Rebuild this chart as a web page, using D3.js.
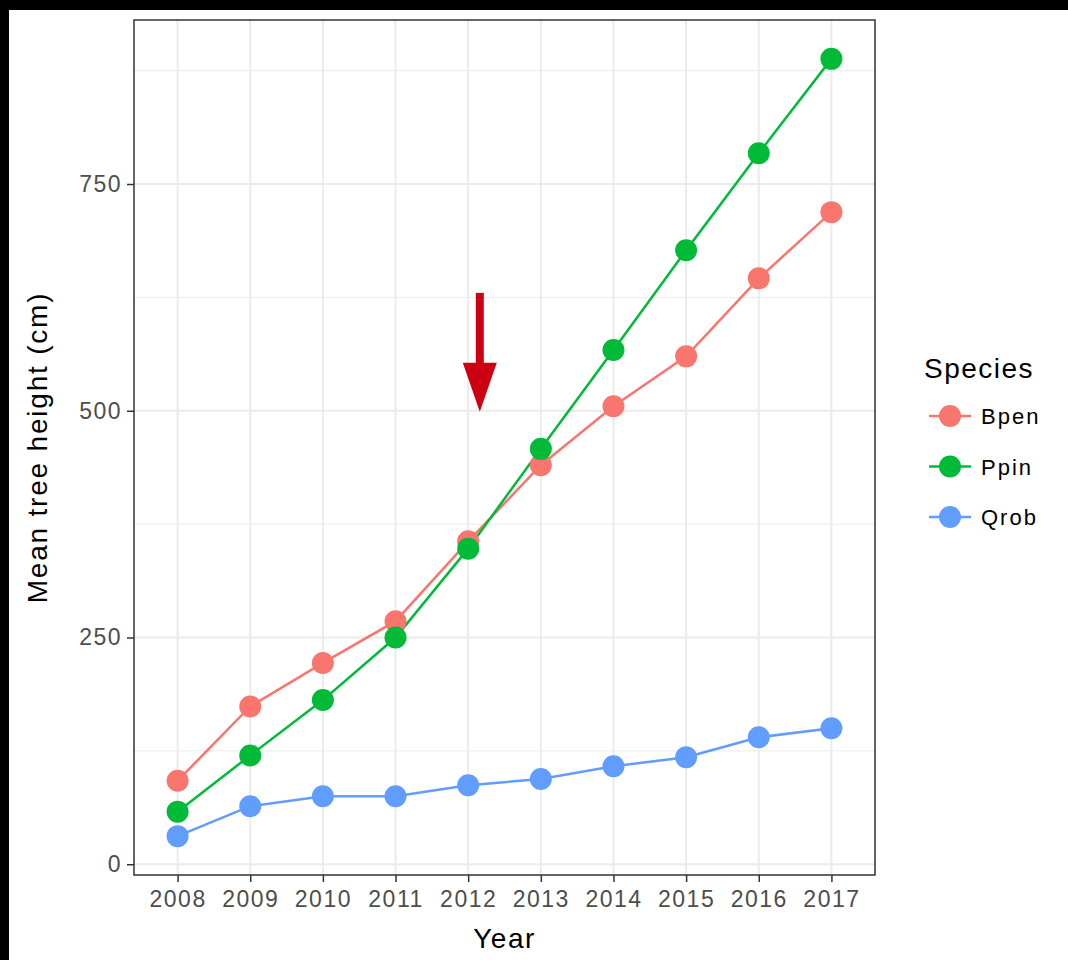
<!DOCTYPE html>
<html>
<head>
<meta charset="utf-8">
<script src="https://cdn.jsdelivr.net/npm/d3@7"></script>
<style>
  body { margin: 0; background: #000; }
  #chart { position: absolute; left: 9px; top: 10px; width: 1059px; height: 950px; background: #fff; }
  svg { display: block; }
</style>
</head>
<body>
<div id="chart"></div>
<script>
// data
var years = [2008, 2009, 2010, 2011, 2012, 2013, 2014, 2015, 2016, 2017];
var species = ["Bpen", "Ppin", "Qrob"];
var bpen = [92, 174, 222, 268, 356, 440, 505, 560, 646, 719];
var ppin = [58, 120, 181, 250, 348, 458, 567, 677, 784, 888];
var qrob = [31, 64, 75, 75, 87, 94, 108, 118, 140, 150];
var yTicks = [0, 250, 500, 750];
var colors = ["#F8766D", "#00BA38", "#619CFF"];

// arrow annotation (data units)
var arrowX = 2012.16, arrowFrom = 630, arrowTo = 499;

var seriesValues = [bpen, ppin, qrob];
var series = species.map(function(s, i) {
    return {name: s, color: colors[i], values: years.map(function(y, j) { return {year: y, value: seriesValues[i][j]}; })};
});

var FONT = "'Liberation Sans', Arial, sans-serif";

// offsets relative to the white area (which starts at 9,10)
var margin = {top: 10, right: 193, bottom: 85, left: 125};
var W = 1059, H = 950;
var width = W - margin.left - margin.right,
    height = H - margin.top - margin.bottom;

var svg = d3.select("#chart").append("svg")
    .attr("width", W)
    .attr("height", H);

var g = svg.append("g")
    .attr("transform", "translate(" + margin.left + "," + margin.top + ")");

// discrete x with 0.6 padding like ggplot
var x = d3.scaleLinear()
    .domain([years[0] - 0.6, years[years.length - 1] + 0.6])
    .range([0, width]);

var allVals = [].concat(bpen, ppin, qrob);
var ymin = d3.min(allVals), ymax = d3.max(allVals), pad = (ymax - ymin) * 0.05;
var y = d3.scaleLinear()
    .domain([ymin - pad, ymax + pad])
    .range([height, 0]);

// minor gridlines
var minor = d3.range(125, ymax + pad, 250);
g.selectAll(".minor").data(minor).enter().append("line")
    .attr("x1", 0).attr("x2", width)
    .attr("y1", function(d) { return y(d); }).attr("y2", function(d) { return y(d); })
    .attr("stroke", "#ebebeb").attr("stroke-width", 1);

// major gridlines
g.selectAll(".hmajor").data(yTicks).enter().append("line")
    .attr("x1", 0).attr("x2", width)
    .attr("y1", function(d) { return y(d); }).attr("y2", function(d) { return y(d); })
    .attr("stroke", "#ebebeb").attr("stroke-width", 2);

g.selectAll(".vmajor").data(years).enter().append("line")
    .attr("y1", 0).attr("y2", height)
    .attr("x1", function(d) { return x(d); }).attr("x2", function(d) { return x(d); })
    .attr("stroke", "#ebebeb").attr("stroke-width", 2);

// lines
var line = d3.line()
    .x(function(d) { return x(d.year); })
    .y(function(d) { return y(d.value); });

g.selectAll(".series").data(series).enter().append("path")
    .attr("d", function(d) { return line(d.values); })
    .attr("fill", "none")
    .attr("stroke", function(d) { return d.color; })
    .attr("stroke-width", 2.5);

// points
series.forEach(function(s) {
    g.selectAll(".pt-" + s.name).data(s.values).enter().append("circle")
        .attr("cx", function(d) { return x(d.year); })
        .attr("cy", function(d) { return y(d.value); })
        .attr("r", 11)
        .attr("fill", s.color);
});

// arrow
var ax = x(arrowX), ay0 = y(arrowFrom), ay1 = y(arrowTo);
g.append("line")
    .attr("x1", ax).attr("x2", ax)
    .attr("y1", ay0).attr("y2", ay1 - 46)
    .attr("stroke", "#cc0011").attr("stroke-width", 8);
g.append("path")
    .attr("d", "M" + (ax - 17) + "," + (ay1 - 49) + "L" + (ax + 17) + "," + (ay1 - 49) + "L" + ax + "," + ay1 + "Z")
    .attr("fill", "#cc0011");

// panel border
g.append("rect")
    .attr("width", width).attr("height", height)
    .attr("fill", "none")
    .attr("stroke", "#333").attr("stroke-width", 1.5);

// axes
var xAxis = g.append("g")
    .attr("transform", "translate(0," + height + ")")
    .call(d3.axisBottom(x).tickValues(years).tickFormat(d3.format("d")).tickSizeOuter(0).tickSize(7).tickPadding(9));
var yAxis = g.append("g")
    .call(d3.axisLeft(y).tickValues(yTicks).tickSizeOuter(0).tickSize(7).tickPadding(5));

[xAxis, yAxis].forEach(function(a) {
    a.select(".domain").remove();
    a.selectAll(".tick line").attr("stroke", "#333").attr("stroke-width", 1.5);
    a.selectAll(".tick text")
        .attr("fill", "#4d4d4d")
        .style("font-family", FONT)
        .style("font-size", "23px")
        .style("letter-spacing", "1.5px");
});

// axis titles
svg.append("text")
    .attr("x", margin.left + width / 2)
    .attr("y", 938)
    .attr("text-anchor", "middle")
    .style("font-family", FONT)
    .style("font-size", "28px")
    .style("letter-spacing", "1.5px")
    .text("Year");

svg.append("text")
    .attr("transform", "translate(38," + (margin.top + height / 2) + ") rotate(-90)")
    .attr("text-anchor", "middle")
    .style("font-family", FONT)
    .style("font-size", "28px")
    .style("letter-spacing", "1.8px")
    .text("Mean tree height (cm)");

// legend
var legend = svg.append("g").attr("transform", "translate(915,0)");
legend.append("text")
    .attr("x", 0).attr("y", 368)
    .style("font-family", FONT)
    .style("font-size", "28px")
    .style("letter-spacing", "1.5px")
    .text("Species");

var item = legend.selectAll(".item").data(series).enter().append("g")
    .attr("transform", function(d, i) { return "translate(0," + (406 + i * 50.5) + ")"; });
item.append("line")
    .attr("x1", 5).attr("x2", 47)
    .attr("stroke", function(d) { return d.color; })
    .attr("stroke-width", 2.5);
item.append("circle")
    .attr("cx", 26).attr("r", 11)
    .attr("fill", function(d) { return d.color; });
item.append("text")
    .attr("x", 57).attr("y", 8)
    .style("font-family", FONT)
    .style("font-size", "22px")
    .style("letter-spacing", "2px")
    .text(function(d) { return d.name; });
</script>
</body>
</html>
